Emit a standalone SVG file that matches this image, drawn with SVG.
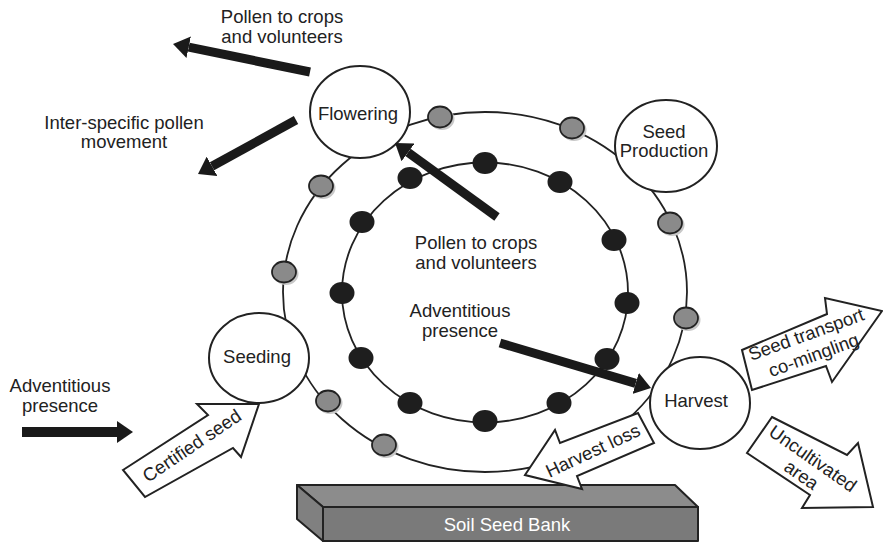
<svg xmlns="http://www.w3.org/2000/svg" width="883" height="545" viewBox="0 0 883 545">
<style>
  text { font-family: "Liberation Sans", Arial, sans-serif; font-size: 18.5px; fill: #222; text-anchor: middle; }
  .ring { fill: none; stroke: #222; stroke-width: 1.8; }
  .node { fill: #fff; stroke: #222; stroke-width: 2; }
  .black { fill: #1e1e1e; }
  .barrow { stroke: #1a1a1a; stroke-width: 9; fill: none; marker-end: url(#head); }
  .block { fill: #fff; stroke: #222; stroke-width: 2; stroke-linejoin: miter; }
  .soil { stroke: #222; stroke-width: 2; stroke-linejoin: round; }
</style>
<defs>
  <marker id="head" markerUnits="userSpaceOnUse" viewBox="0 0 16 22" refX="0" refY="11" markerWidth="16" markerHeight="22" orient="auto">
    <path d="M0,0 L16,11 L0,22 Z" fill="#1a1a1a"/>
  </marker>
  <g id="gd">
    <ellipse cx="2" cy="2" rx="12.5" ry="11" fill="#c8c8c8"/>
    <ellipse cx="0" cy="0" rx="12" ry="10.5" fill="#8a8a8a" stroke="#222" stroke-width="1.8"/>
  </g>
  <ellipse id="bd" cx="0" cy="0" rx="12.5" ry="11" class="black"/>
</defs>
<rect width="883" height="545" fill="#fff"/>

<g id="connectors">
  <ellipse class="ring" cx="485" cy="292" rx="202" ry="180"/>
  <ellipse class="ring" cx="485" cy="292.5" rx="143" ry="130"/>
</g>

<g id="dots">
  <use href="#gd" x="440" y="117"/>
  <use href="#gd" x="572" y="128"/>
  <use href="#gd" x="670" y="223"/>
  <use href="#gd" x="686" y="318"/>
  <use href="#gd" x="321" y="186"/>
  <use href="#gd" x="284" y="272"/>
  <use href="#gd" x="328" y="401"/>
  <use href="#gd" x="384" y="445"/>
  <use href="#bd" x="410" y="178"/>
  <use href="#bd" x="485" y="163"/>
  <use href="#bd" x="560" y="182"/>
  <use href="#bd" x="614" y="240"/>
  <use href="#bd" x="627" y="303"/>
  <use href="#bd" x="607" y="359"/>
  <use href="#bd" x="559" y="403"/>
  <use href="#bd" x="485" y="421"/>
  <use href="#bd" x="410" y="403"/>
  <use href="#bd" x="361" y="358"/>
  <use href="#bd" x="342" y="293"/>
  <use href="#bd" x="362" y="222"/>
</g>

<g id="flowering">
  <ellipse class="node" cx="360" cy="112" rx="50" ry="46"/>
  <text x="358" y="120">Flowering</text>
</g>
<g id="seed-production">
  <ellipse class="node" cx="666" cy="146" rx="51" ry="46"/>
  <text x="664" y="138">Seed</text>
  <text x="664" y="157">Production</text>
</g>
<g id="seeding">
  <ellipse class="node" cx="259" cy="358" rx="50" ry="45"/>
  <text x="257" y="363">Seeding</text>
</g>
<g id="harvest">
  <ellipse class="node" cx="700" cy="403" rx="50" ry="46"/>
  <text x="696" y="407">Harvest</text>
</g>

<g id="soil-seed-bank">
  <polygon class="soil" points="297,485 675,485 698,507 323,507" fill="#8c8c8c"/>
  <polygon class="soil" points="297,485 323,507 323,541 297,519" fill="#808080"/>
  <rect class="soil" x="323" y="507" width="375" height="34" fill="#7a7a7a"/>
  <text x="507" y="531" style="fill:#fff">Soil Seed Bank</text>
</g>

<g id="arrows">
  <line class="barrow" x1="310" y1="72" x2="188.7" y2="47.2"/>
  <line class="barrow" x1="296" y1="120" x2="212" y2="166.3"/>
  <line class="barrow" x1="497" y1="217" x2="408" y2="152.4"/>
  <line class="barrow" x1="500" y1="343" x2="635.7" y2="383.4"/>
  <line class="barrow" x1="22" y1="432" x2="117" y2="432" style="stroke-width:10"/>

  <polygon class="block" points="123,470 208,415 197,404 259,404 241,457 233,448 145,497"/>
  <polygon class="block" points="525,475 555,430 560,443 638,413 654,443 577,476 582,489"/>
  <polygon class="block" points="742,350 827,314 825,298 882,311 832,382 826,366 752,390"/>
  <polygon class="block" points="772,417 847,455 858,443 873,507 802,508 810,495 747,453"/>
</g>

<g id="labels">
  <text x="282" y="23">Pollen to crops</text>
  <text x="282" y="43">and volunteers</text>
  <text x="124" y="129">Inter-specific pollen</text>
  <text x="124" y="148">movement</text>
  <text x="476" y="249">Pollen to crops</text>
  <text x="476" y="269">and volunteers</text>
  <text x="460" y="317">Adventitious</text>
  <text x="460" y="337">presence</text>
  <text x="60" y="392">Adventitious</text>
  <text x="60" y="412">presence</text>
  <g transform="translate(192,446) rotate(-34)"><text x="0" y="6">Certified seed</text></g>
  <g transform="translate(593,451) rotate(-25)"><text x="0" y="6">Harvest loss</text></g>
  <g transform="translate(810,345) rotate(-20)"><text x="0" y="-5">Seed transport</text><text x="0" y="17">co-mingling</text></g>
  <g transform="translate(807,467) rotate(35)"><text x="0" y="-4">Uncultivated</text><text x="0" y="16">area</text></g>
</g>
</svg>
